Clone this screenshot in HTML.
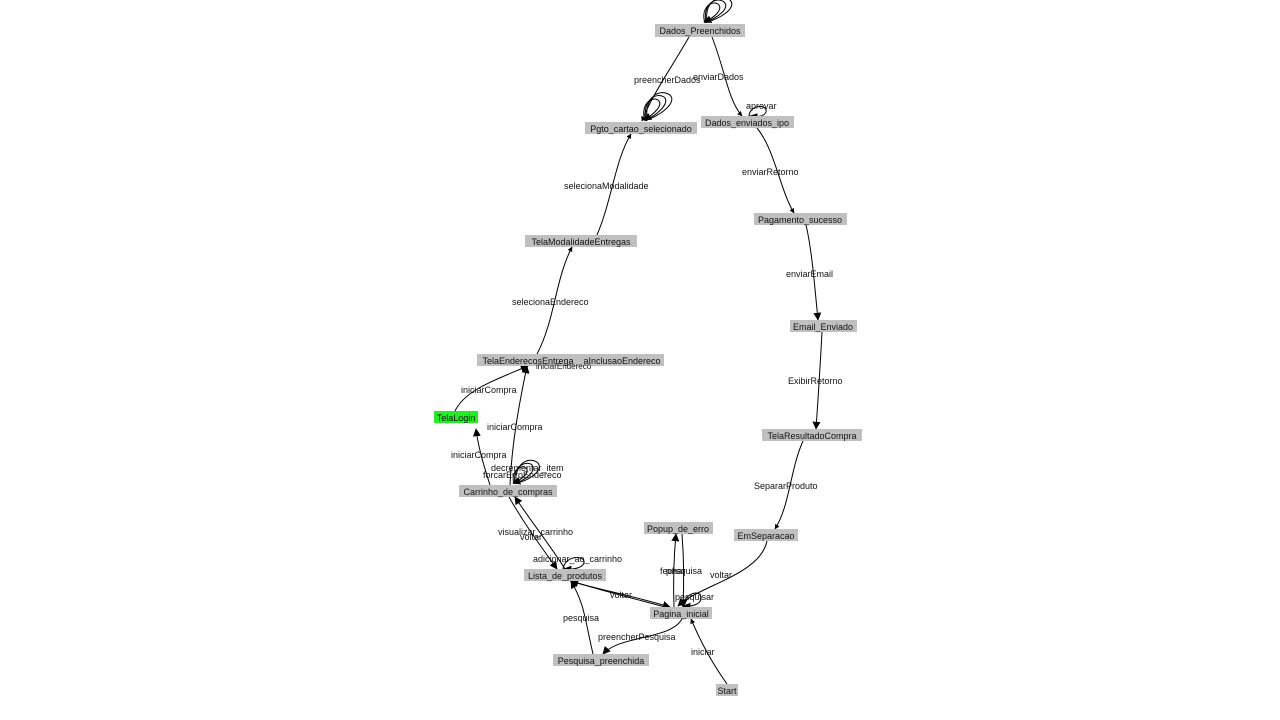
<!DOCTYPE html>
<html><head><meta charset="utf-8"><style>
html,body{margin:0;padding:0;background:#fff;}
svg{display:block;}
text{font-family:"Liberation Sans",sans-serif;font-size:9px;fill:#111;}
.n{fill:#c0c0c0;}
path{fill:none;stroke:#000;stroke-width:1;}
</style></head><body>
<svg width="1280" height="720" viewBox="0 0 1280 720" xmlns="http://www.w3.org/2000/svg">
<defs>
<marker id="a" viewBox="0 0 10 10" refX="9" refY="5" markerWidth="8" markerHeight="8" orient="auto" markerUnits="userSpaceOnUse"><path d="M0,0 L10,5 L0,10 z" style="fill:#000;stroke:none"/></marker>
<marker id="s" viewBox="0 0 10 10" refX="9" refY="5" markerWidth="5" markerHeight="5" orient="auto" markerUnits="userSpaceOnUse"><path d="M0,0 L10,5 L0,10 z" style="fill:#000;stroke:none"/></marker>
</defs>
<!-- self loops -->
<path d="M705,23 C700,8 712,0 718,4 C724,9 714,18 704,22" marker-end="url(#a)"/>
<path d="M706,23 C702,4 716,-4 724,2 C731,8 716,19 705,22"/>
<path d="M707,23 C704,0 720,-6 730,0 C738,8 718,20 706,22"/>
<path d="M645,121 C640,104 652,96 658,100 C664,105 654,114 644,120" marker-end="url(#a)"/>
<path d="M646,121 C642,100 656,92 664,97 C671,103 656,116 645,120"/>
<path d="M647,121 C644,96 660,88 670,95 C678,103 658,117 646,120"/>
<path d="M749,116 C750,104 768,104 766,112 C764,117 756,117 750,116" marker-end="url(#a)"/>
<path d="M514,484 C510,470 522,464 526,468 C530,472 522,480 513,483" marker-end="url(#a)"/>
<path d="M515,484 C512,466 526,460 532,465 C537,470 526,481 514,483"/>
<path d="M516,484 C514,462 530,456 538,463 C544,470 528,482 515,483"/>
<path d="M563,569 C565,556 582,555 584,561 C585,567 575,570 564,569" marker-end="url(#a)"/>
<path d="M682,606 C686,592 700,590 701,597 C702,604 692,607 683,606" marker-end="url(#a)"/>
<!-- edges -->
<path d="M689,37 C670,70 652,95 642,121" marker-end="url(#s)"/>
<path d="M712,37 C725,70 728,100 742,116" marker-end="url(#s)"/>
<path d="M757,128 C775,150 780,190 794,213" marker-end="url(#s)"/>
<path d="M806,225 C812,250 815,290 818,320" marker-end="url(#a)"/>
<path d="M822,332 C820,370 818,400 816,429" marker-end="url(#a)"/>
<path d="M803,441 C790,470 790,505 775,529" marker-end="url(#s)"/>
<path d="M767,541 C760,575 700,585 678,606" marker-end="url(#a)"/>
<path d="M597,235 C612,200 615,160 631,134" marker-end="url(#s)"/>
<path d="M537,354 C555,320 555,280 572,247" marker-end="url(#s)"/>
<path d="M455,411 C465,390 495,380 528,366" marker-end="url(#a)"/>
<path d="M510,485 C512,440 520,400 527,366" marker-end="url(#a)"/>
<path d="M490,485 C482,460 478,445 476,429" marker-end="url(#a)"/>
<path d="M509,497 C525,525 540,545 557,569" marker-end="url(#a)"/>
<path d="M565,569 C550,545 530,520 515,497" marker-end="url(#a)"/>
<path d="M593,654 C585,620 585,605 571,581" marker-end="url(#a)"/>
<path d="M682,619 C670,640 620,635 603,654" marker-end="url(#a)"/>
<path d="M727,684 C710,660 700,640 691,619" marker-end="url(#s)"/>
<path d="M570,581 C600,590 630,595 670,607" marker-end="url(#a)"/>
<path d="M665,607 C620,595 600,590 571,581" marker-end="url(#a)"/>
<path d="M674,607 C673,580 674,555 676,534" marker-end="url(#a)"/>
<path d="M682,534 C684,560 684,585 683,607" marker-end="url(#a)"/>
<!-- nodes -->
<rect class="n" x="655" y="24" width="90" height="13"/><text x="700" y="34" text-anchor="middle">Dados_Preenchidos</text>
<rect class="n" x="585" y="122" width="112" height="12"/><text x="641" y="132" text-anchor="middle">Pgto_cartao_selecionado</text>
<rect class="n" x="701" y="116" width="93" height="12"/><text x="747" y="126" text-anchor="middle">Dados_enviados_ipo</text>
<rect class="n" x="754" y="213" width="93" height="12"/><text x="800" y="223" text-anchor="middle">Pagamento_sucesso</text>
<rect class="n" x="790" y="320" width="67" height="12"/><text x="823" y="330" text-anchor="middle">Email_Enviado</text>
<rect class="n" x="762" y="429" width="100" height="12"/><text x="812" y="439" text-anchor="middle">TelaResultadoCompra</text>
<rect class="n" x="734" y="529" width="64" height="12"/><text x="766" y="539" text-anchor="middle">EmSeparacao</text>
<rect class="n" x="644" y="522" width="69" height="12"/><text x="678" y="532" text-anchor="middle">Popup_de_erro</text>
<rect class="n" x="650" y="607" width="62" height="12"/><text x="681" y="617" text-anchor="middle">Pagina_inicial</text>
<rect class="n" x="716" y="684" width="22" height="12"/><text x="727" y="694" text-anchor="middle">Start</text>
<rect class="n" x="553" y="654" width="96" height="12"/><text x="601" y="664" text-anchor="middle">Pesquisa_preenchida</text>
<rect class="n" x="524" y="569" width="82" height="12"/><text x="565" y="579" text-anchor="middle">Lista_de_produtos</text>
<rect class="n" x="459" y="485" width="98" height="12"/><text x="508" y="495" text-anchor="middle">Carrinho_de_compras</text>
<rect x="434" y="411" width="44" height="12" style="fill:#22ee22"/><text x="456" y="421" text-anchor="middle">TelaLogin</text>
<rect class="n" x="477" y="354" width="103" height="12"/><text x="528" y="364" text-anchor="middle">TelaEnderecosEntrega</text>
<rect class="n" x="580" y="354" width="84" height="12"/><text x="622" y="364" text-anchor="middle">aInclusaoEndereco</text>
<text x="536" y="369" style="font-size:8px">iniciarEndereco</text>
<rect class="n" x="525" y="235" width="112" height="12"/><text x="581" y="245" text-anchor="middle">TelaModalidadeEntregas</text>
<!-- edge labels -->
<text x="634" y="83">preencherDados</text>
<text x="693" y="80">enviarDados</text>
<text x="746" y="109">aprovar</text>
<text x="742" y="175">enviarRetorno</text>
<text x="786" y="277">enviarEmail</text>
<text x="788" y="384">ExibirRetorno</text>
<text x="754" y="489">SepararProduto</text>
<text x="710" y="578">voltar</text>
<text x="564" y="189">selecionaModalidade</text>
<text x="512" y="305">selecionaEndereco</text>
<text x="461" y="393">iniciarCompra</text>
<text x="487" y="430">iniciarCompra</text>
<text x="451" y="458">iniciarCompra</text>
<text x="491" y="471">decrementar_item</text>
<text x="483" y="478">forcarErroEndereco</text>
<text x="498" y="535">visualizar_carrinho</text>
<text x="520" y="540">voltar</text>
<text x="533" y="562">adicionar_ao_carrinho</text>
<text x="610" y="598">voltar</text>
<text x="563" y="621">pesquisa</text>
<text x="598" y="640">preencherPesquisa</text>
<text x="691" y="655">iniciar</text>
<text x="675" y="600">pesquisar</text>
<text x="660" y="574">fechar</text>
<text x="666" y="574">pesquisa</text>
</svg>
</body></html>
